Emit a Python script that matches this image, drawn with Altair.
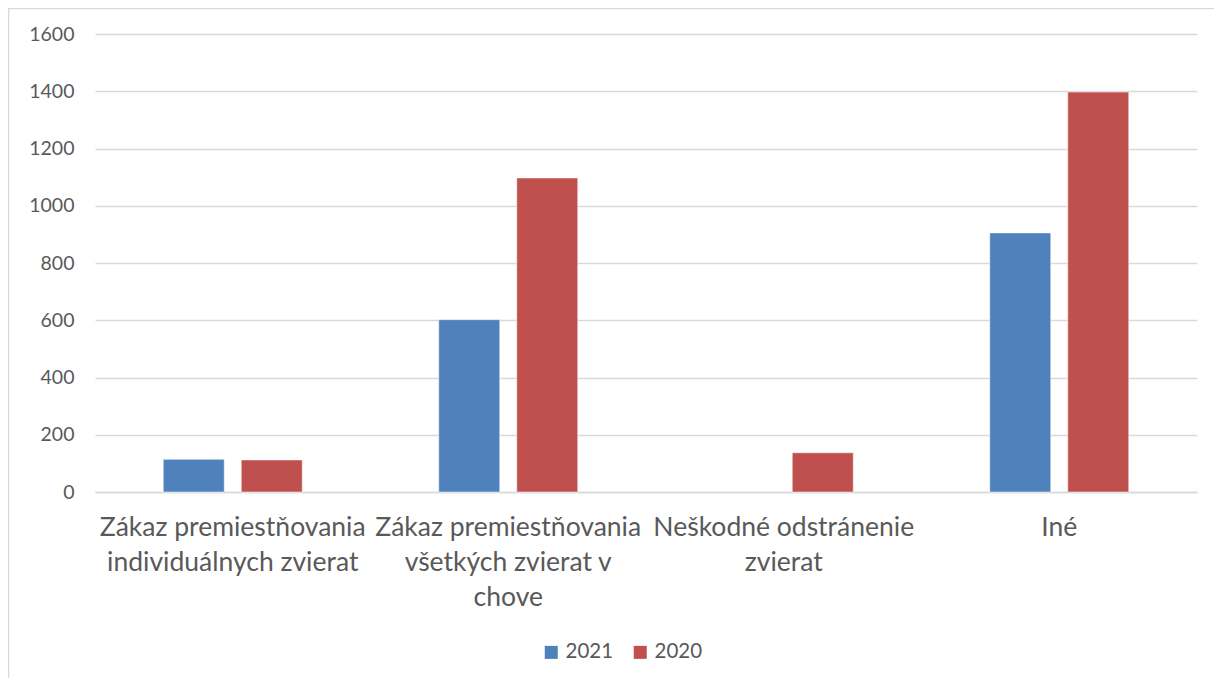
import altair as alt
import pandas as pd

categories = [
    "Zákaz premiestňovania\nindividuálnych zvierat",
    "Zákaz premiestňovania\nvšetkých zvierat v\nchove",
    "Neškodné odstránenie\nzvierat",
    "Iné",
]
series = ["2021", "2020"]
values_2021 = [114, 602, None, 905]
values_2020 = [112, 1097, 137, 1397]
colors = ["#4f81bd", "#c0504d"]

rows = []
for c, v21, v20 in zip(categories, values_2021, values_2020):
    rows.append({"cat": c, "year": "2021", "value": v21})
    rows.append({"cat": c, "year": "2020", "value": v20})
df = pd.DataFrame(rows)

FONT = "Lato"
TXT = "#595959"

bars = alt.Chart(df).mark_bar(stroke="white", strokeWidth=0.5).encode(
    x=alt.X("cat:N", sort=categories, title=None,
            scale=alt.Scale(paddingInner=0, paddingOuter=0),
            axis=alt.Axis(labelAngle=0, labelExpr="split(datum.label, '\\n')",
                          labelFontSize=26.5, labelLineHeight=35, labelColor=TXT,
                          labelFont=FONT, ticks=False, domain=True,
                          domainColor="#d9d9d9", domainWidth=1.5,
                          labelPadding=22, labelBaseline="top", grid=False,
                          labelLimit=400)),
    xOffset=alt.XOffset("year:N", sort=series,
                        scale=alt.Scale(domain=series, paddingInner=0.218, paddingOuter=0.875)),
    y=alt.Y("value:Q", title=None,
            scale=alt.Scale(domain=[0, 1600]),
            axis=alt.Axis(values=list(range(0, 1601, 200)), domain=False, ticks=False,
                          format="d",
                          labelFontSize=19.5, labelColor=TXT, labelFont=FONT,
                          labelPadding=21, gridColor="#d9d9d9", gridWidth=1.5)),
    color=alt.Color("year:N", sort=series,
                    scale=alt.Scale(domain=series, range=colors),
                    legend=alt.Legend(title=None, orient="none", direction="horizontal",
                                      legendX=446, legendY=608, symbolType="square",
                                      symbolSize=169, symbolStrokeWidth=0,
                                      labelFontSize=20.5, labelColor=TXT, labelFont=FONT,
                                      columnPadding=16, symbolOffset=0)),
)

border = alt.Chart(pd.DataFrame({"a": [0]})).mark_rect(
    fill=None, stroke="#d9d9d9", strokeWidth=1.5
).encode(
    x=alt.value(-86.5), x2=alt.value(1200),
    y=alt.value(-25.5), y2=alt.value(800),
)

chart = alt.layer(border, bars).properties(
    width=1102, height=458,
    padding={"left": 87, "top": 26, "right": 17, "bottom": 186},
    autosize=alt.AutoSizeParams(type="none"),
).configure(font=FONT).configure_view(stroke="transparent", strokeWidth=0)

chart.save("out.html", embed_options={"renderer": "svg", "actions": False})
